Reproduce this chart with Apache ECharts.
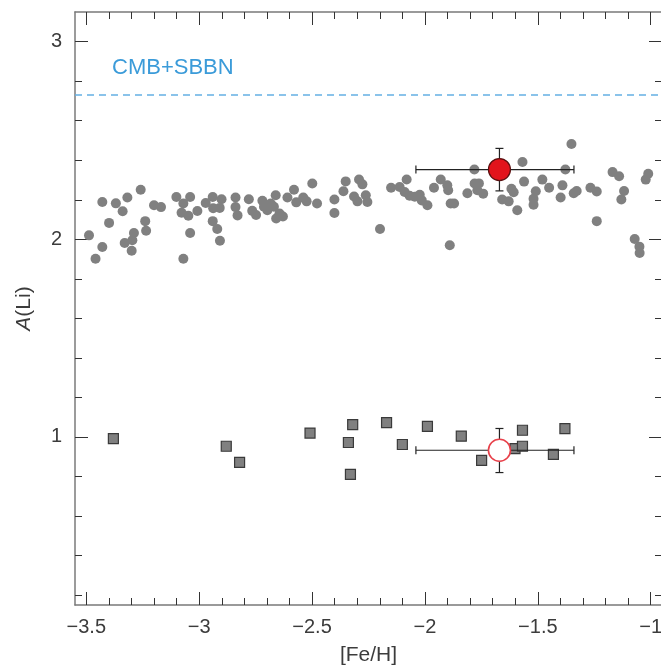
<!DOCTYPE html>
<html>
<head>
<meta charset="utf-8">
<script src="https://cdn.jsdelivr.net/npm/echarts@6/dist/echarts.min.js"></script>
<style>html,body{margin:0;padding:0;background:#fff;}#c{width:661px;height:666px;}</style>
</head>
<body>
<div id="c"></div>
<script>
// Halo dwarf stars (grey circles): [Fe/H], A(Li)
const dwarfFeH = [-3.488,-3.459,-3.429,-3.429,-3.399,-3.369,-3.339,-3.318,-3.259,-3.330,-3.299,-3.289,-3.296,-3.239,-3.235,-3.200,-3.169,-3.101,-3.070,-3.078,-3.040,-3.048,-3.040,-3.070,-3.008,-2.971,-2.940,-2.938,-2.901,-2.909,-2.940,-2.920,-2.908,-2.839,-2.839,-2.830,-2.780,-2.765,-2.748,-2.720,-2.713,-2.698,-2.683,-2.669,-2.661,-2.659,-2.644,-2.629,-2.609,-2.580,-2.570,-2.539,-2.524,-2.499,-2.478,-2.401,-2.401,-2.361,-2.351,-2.314,-2.292,-2.277,-2.299,-2.262,-2.255,-2.199,-2.150,-2.112,-2.081,-2.090,-2.068,-2.045,-2.023,-2.014,-1.989,-1.960,-1.930,-1.901,-1.897,-1.886,-1.871,-1.890,-1.812,-1.781,-1.780,-1.761,-1.768,-1.742,-1.658,-1.629,-1.617,-1.607,-1.591,-1.568,-1.561,-1.509,-1.519,-1.519,-1.480,-1.450,-1.399,-1.391,-1.378,-1.351,-1.341,-1.328,-1.267,-1.239,-1.239,-1.169,-1.140,-1.118,-1.130,-1.071,-1.050,-1.049,-1.011,-1.022];
const dwarfALi = [2.020,1.902,1.961,2.189,2.083,2.182,2.142,2.212,2.251,1.981,1.942,2.032,1.995,2.092,2.043,2.172,2.163,2.214,2.181,2.134,2.214,2.119,2.032,1.902,2.143,2.184,2.214,2.157,2.203,2.159,2.092,2.052,1.993,2.212,2.163,2.121,2.203,2.144,2.123,2.195,2.165,2.147,2.181,2.165,2.223,2.105,2.130,2.115,2.212,2.251,2.187,2.211,2.192,2.282,2.181,2.201,2.133,2.243,2.293,2.217,2.303,2.278,2.192,2.223,2.189,2.052,2.261,2.265,2.303,2.239,2.220,2.215,2.225,2.197,2.172,2.261,2.303,2.273,2.248,2.181,2.181,1.970,2.233,2.353,2.282,2.283,2.248,2.231,2.201,2.192,2.256,2.238,2.147,2.391,2.292,2.243,2.205,2.175,2.302,2.261,2.212,2.273,2.353,2.482,2.233,2.244,2.261,2.242,2.092,2.340,2.319,2.244,2.201,2.002,1.963,1.931,2.332,2.302];

// Giant stars (grey squares): [Fe/H], A(Li)
const giantFeH = [-3.380,-2.880,-2.821,-2.509,-2.320,-2.339,-2.330,-2.170,-2.100,-1.989,-1.839,-1.749,-1.601,-1.568,-1.568,-1.431,-1.380];
const giantALi = [0.992,0.953,0.872,1.020,1.063,0.972,0.811,1.073,0.962,1.054,1.004,0.882,0.941,1.034,0.953,0.912,1.042];

// Highlighted stars: [Fe/H], A(Li), FeH low, FeH high, ALi low, ALi high
const dwarfMark = [-1.67, 2.353, -2.04, -1.34, 2.245, 2.46];
const giantMark = [-1.67, 0.933, -2.04, -1.34, 0.82, 1.043];

// Reference line
const cmbSbbnALi = 2.73;
const cmbSbbnLabel = 'CMB+SBBN';

// Axes ticks
const xMajor = [-3.5, -3, -2.5, -2, -1.5, -1];
const xMinor = [-3.4,-3.3,-3.2,-3.1,-2.9,-2.8,-2.7,-2.6,-2.4,-2.3,-2.2,-2.1,-1.9,-1.8,-1.7,-1.6,-1.4,-1.3,-1.2,-1.1];
const yMajor = [1, 2, 3];
const yMinor = [0.2,0.4,0.6,0.8,1.2,1.4,1.6,1.8,2.2,2.4,2.6,2.8,3.0];
const xRange = [-3.55, -0.95];
const yRange = [0.15, 3.15];

const dwarfs = dwarfFeH.map((v, i) => [v, dwarfALi[i]]);
const giants = giantFeH.map((v, i) => [v, giantALi[i]]);

const FONT = 'Liberation Sans, Arial, sans-serif';
const frameColor = '#7a7a7a';
const tickColor = '#333';
const textColor = '#3c3c3c';

function xAxisDef(pos, vals, len, showLabel, showLine) {
  return {
    type: 'value', position: pos, min: xRange[0], max: xRange[1],
    splitLine: {show: false},
    axisLine: {show: showLine, onZero: false, lineStyle: {color: frameColor, width: 1.5}},
    axisTick: {show: true, inside: true, length: len, customValues: vals, lineStyle: {color: tickColor, width: 1}},
    axisLabel: showLabel ? {show: true, customValues: vals, margin: 12, fontFamily: FONT, fontSize: 20, color: textColor,
      formatter: v => String(v).replace('-', '\u2212')} : {show: false},
    name: showLabel ? '[Fe/H]' : '', nameLocation: 'middle', nameGap: 40,
    nameTextStyle: {fontFamily: FONT, fontSize: 21, color: textColor}
  };
}
function yAxisDef(pos, vals, len, showLabel, showLine) {
  return {
    type: 'value', position: pos, min: yRange[0], max: yRange[1],
    splitLine: {show: false},
    axisLine: {show: showLine, onZero: false, lineStyle: {color: frameColor, width: 1.5}},
    axisTick: {show: true, inside: true, length: len, customValues: vals, lineStyle: {color: tickColor, width: 1}},
    axisLabel: showLabel ? {show: true, customValues: vals, margin: 13, fontFamily: FONT, fontSize: 20, color: textColor} : {show: false},
    name: showLabel ? '{i|A}(Li)' : '', nameLocation: 'middle', nameGap: 40, nameRotate: 90,
    nameTextStyle: {fontFamily: FONT, fontSize: 21, color: textColor,
      rich: {i: {fontStyle: 'italic', fontFamily: FONT, fontSize: 21, color: textColor}}}
  };
}

function errRender(params, api) {
  const x = api.value(0), y = api.value(1);
  const l = api.coord([api.value(2), y]);
  const r = api.coord([api.value(3), y]);
  const b = api.coord([x, api.value(4)]);
  const t = api.coord([x, api.value(5)]);
  const cap = 4;
  const st = {stroke: '#222', lineWidth: 1.2};
  const ln = (x1, y1, x2, y2) => ({type: 'line', shape: {x1, y1, x2, y2}, style: st});
  return {type: 'group', children: [
    ln(l[0], l[1], r[0], r[1]),
    ln(l[0], l[1] - cap, l[0], l[1] + cap),
    ln(r[0], r[1] - cap, r[0], r[1] + cap),
    ln(t[0], t[1], b[0], b[1]),
    ln(t[0] - cap, t[1], t[0] + cap, t[1]),
    ln(b[0] - cap, b[1], b[0] + cap, b[1])
  ]};
}

const chart = echarts.init(document.getElementById('c'), null, {renderer: 'canvas'});
chart.setOption({
  animation: false,
  backgroundColor: '#fff',
  grid: {left: 75, top: 12, width: 587, height: 593, containLabel: false, outerBoundsMode: 'none'},
  xAxis: [
    xAxisDef('bottom', xMajor, 13, true, true),
    xAxisDef('bottom', xMinor, 7, false, false),
    xAxisDef('top', xMajor, 13, false, true),
    xAxisDef('top', xMinor, 7, false, false)
  ],
  yAxis: [
    yAxisDef('left', yMajor, 13, true, true),
    yAxisDef('left', yMinor, 7, false, false),
    yAxisDef('right', yMajor, 13, false, true),
    yAxisDef('right', yMinor, 7, false, false)
  ],
  graphic: [{
    type: 'text', left: 112, top: 57,
    style: {text: cmbSbbnLabel, fontFamily: FONT, fontSize: 22, fill: '#3b9bd9'}
  }],
  series: [
    {
      type: 'line', data: [[xRange[0], cmbSbbnALi], [xRange[1], cmbSbbnALi]],
      symbol: 'none', silent: true, z: 1,
      lineStyle: {color: '#64b0e4', width: 1.5, type: [7, 5]}
    },
    {
      type: 'scatter', data: dwarfs, symbol: 'circle', symbolSize: 10, z: 2,
      itemStyle: {color: '#808080', opacity: 1}
    },
    {
      type: 'scatter', data: giants, symbol: 'rect', symbolSize: 10, z: 2,
      itemStyle: {color: '#808080', borderColor: '#3a3a3a', borderWidth: 1.2, opacity: 1}
    },
    {
      type: 'custom', renderItem: errRender, data: [dwarfMark, giantMark], z: 3,
      encode: {x: 0, y: 1}
    },
    {
      type: 'scatter', data: [[dwarfMark[0], dwarfMark[1]]], symbol: 'circle', symbolSize: 22, z: 4,
      itemStyle: {color: '#e2141c', borderColor: '#5a1010', borderWidth: 1.2, opacity: 1}
    },
    {
      type: 'scatter', data: [[giantMark[0], giantMark[1]]], symbol: 'circle', symbolSize: 22, z: 4,
      itemStyle: {color: '#ffffff', borderColor: '#e8404a', borderWidth: 1.6, opacity: 1}
    }
  ]
});
</script>
</body>
</html>
